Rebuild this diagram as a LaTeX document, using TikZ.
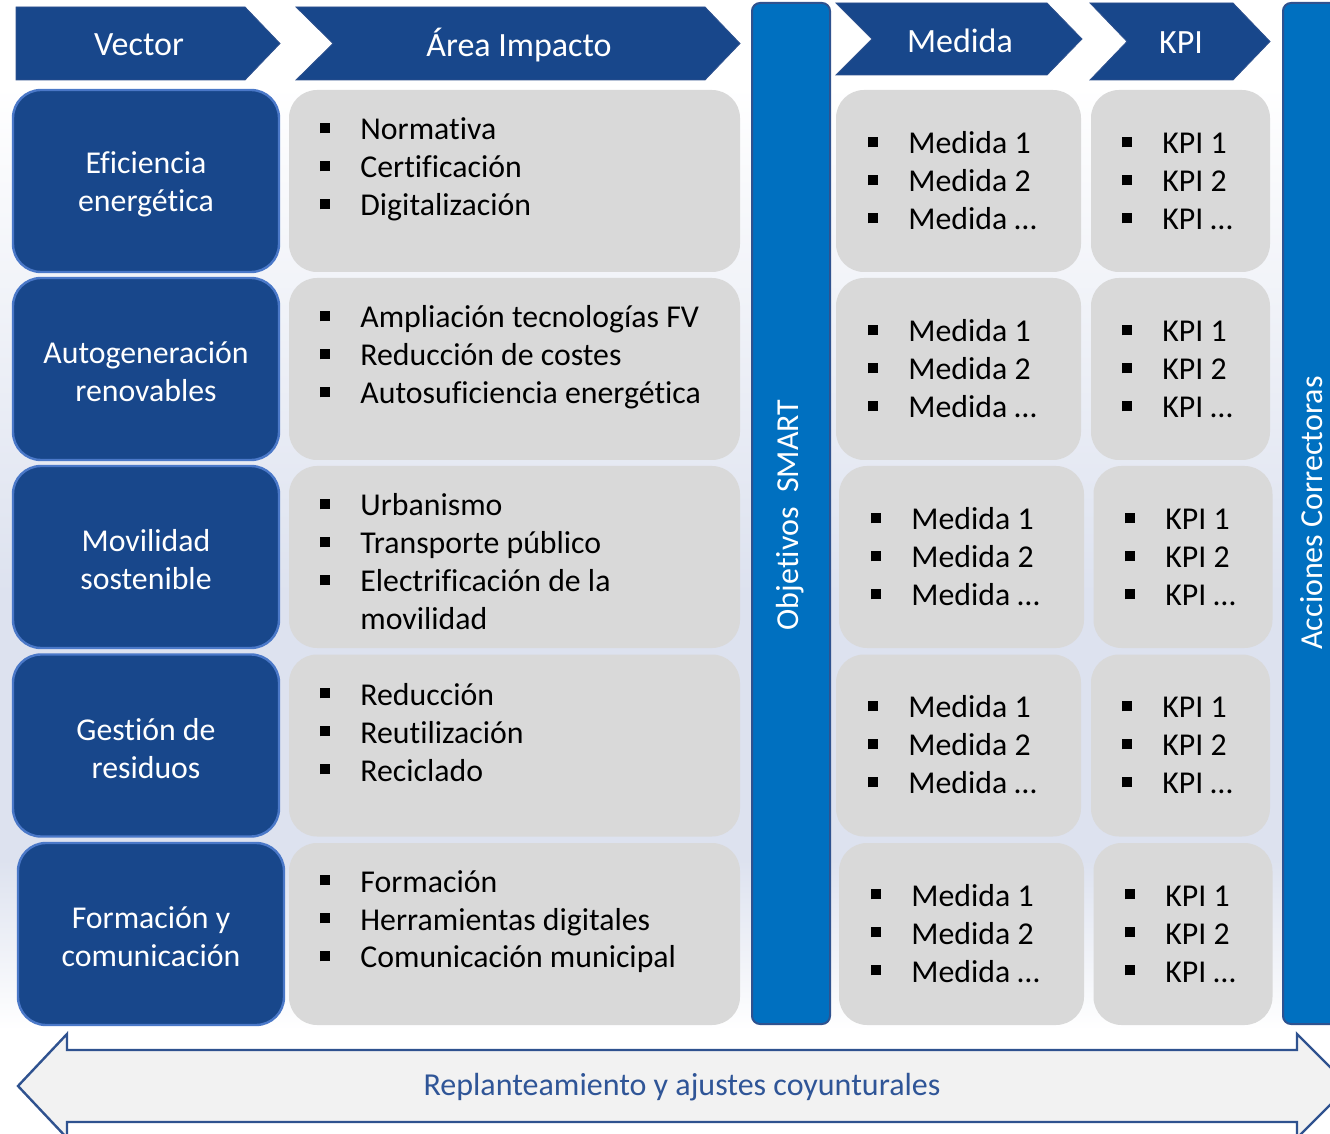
\documentclass[tikz,border=0pt]{standalone}
\usepackage{fontspec}
\setmainfont{Carlito}[Ligatures=NoCommon]
\usetikzlibrary{positioning}

\definecolor{navy}{HTML}{18478B}
\definecolor{navyedge}{HTML}{4A78C8}
\definecolor{barblue}{HTML}{0070C0}
\definecolor{baredge}{HTML}{2F528F}
\definecolor{cardgray}{HTML}{D9D9D9}
\definecolor{bgband}{HTML}{DDE2EF}
\definecolor{arrowfill}{HTML}{F2F2F2}
\definecolor{arrowtext}{HTML}{2F5597}

\pgfdeclareverticalshading{bgfade}{100bp}{color(0bp)=(white); color(25bp)=(white); color(34bp)=(bgband); color(48bp)=(bgband); color(75bp)=(white); color(100bp)=(white)}

% bullet and list helpers
\newcommand{\blt}{\makebox[20pt][l]{\rule[3.3pt]{5pt}{5pt}}}
\newcommand{\blist}[1]{\begin{tabular}[t]{@{}l@{}}#1\end{tabular}}
\newcommand{\cardfont}{\fontsize{15.9}{19}\selectfont}

\begin{document}
\begin{tikzpicture}[x=0.5pt,y=-0.5pt,
  hdr/.style={fill=navy,draw=baredge,line width=0.4pt},
  hdrtext/.style={text=white,font=\fontsize{17}{19}\selectfont},
  vecbox/.style={rounded corners=14pt,fill=navy,draw=navyedge,line width=1.2pt,
    minimum width=133pt,minimum height=91pt,text=white,align=center,font=\cardfont},
  areabox/.style={rounded corners=14pt,fill=cardgray,minimum width=225.5pt,minimum height=91pt},
  medbox/.style={rounded corners=14pt,fill=cardgray,minimum width=122.5pt,minimum height=91pt},
  kpibox/.style={rounded corners=14pt,fill=cardgray,minimum width=89.5pt,minimum height=91pt},
  itemtext/.style={anchor=base west,inner sep=0pt,font=\cardfont},
  vectext/.style={text=white,align=center,font=\cardfont},
  bar/.style={fill=barblue,draw=baredge,line width=1pt,rounded corners=4pt},
  bartext/.style={text=white,rotate=90,inner sep=0pt,font=\fontsize{16}{19}\selectfont}]

\useasboundingbox (0,0) rectangle (1330,1134);
\clip (0,0) rectangle (1330,1134);

% background band
\shade[shading=bgfade] (0,85) rectangle (1330,1030);

% column headers
\draw[hdr] (16,7) -- (245,7) -- (280,43.5) -- (245,80) -- (16,80) -- cycle;
\node[hdrtext] (hvector) at (139,45) {Vector};
\draw[hdr] (296,7) -- (705,7) -- (740,43.5) -- (705,80) -- (296,80) -- (333,43.5) -- cycle;
\node[hdrtext] (harea) at (519,45) {Área Impacto};
\draw[hdr] (836,3) -- (1047,3) -- (1082,39) -- (1047,75) -- (836,75) -- (872,39) -- cycle;
\node[hdrtext] (hmedida) at (960,41) {Medida};
\draw[hdr] (1090,3) -- (1233,3) -- (1270,41.5) -- (1233,80) -- (1090,80) -- (1127,41.5) -- cycle;
\node[hdrtext] (hkpi) at (1181,43) {KPI};

% vertical bars
\draw[bar] (752,3) rectangle (830,1024);
\node[bartext] (smart) at (790,515) {Objetivos\ \ SMART};
\draw[bar] (1283,3) rectangle (1350,1024);
\node[bartext] (acciones) at (1312,513) {Acciones Correctoras};

% row 1
\node[vecbox] (vec1) at (146,181) {};
\node[vectext] (vectxt1) at (146,184) {Eficiencia\\energética};
\node[areabox] (area1) at (514.5,181) {};
\node[itemtext] (areatxt1) at (320,140) {\blist{\blt Normativa\\ \blt Certificación\\ \blt Digitalización}};
\node[medbox] (med1) at (958.5,181) {};
\node[itemtext] (medtxt1) at (868,154) {\blist{\blt Medida 1\\ \blt Medida 2\\ \blt Medida …}};
\node[kpibox] (kpi1) at (1180.5,181) {};
\node[itemtext] (kpitxt1) at (1122,154) {\blist{\blt KPI 1\\ \blt KPI 2\\ \blt KPI …}};

% row 2
\node[vecbox] (vec2) at (146,369) {};
\node[vectext] (vectxt2) at (146,372) {Autogeneración\\renovables};
\node[areabox] (area2) at (514.5,369) {};
\node[itemtext] (areatxt2) at (320,328) {\blist{\blt Ampliación tecnologías FV\\ \blt Reducción de costes\\ \blt Autosuficiencia energética}};
\node[medbox] (med2) at (958.5,369) {};
\node[itemtext] (medtxt2) at (868,342) {\blist{\blt Medida 1\\ \blt Medida 2\\ \blt Medida …}};
\node[kpibox] (kpi2) at (1180.5,369) {};
\node[itemtext] (kpitxt2) at (1122,342) {\blist{\blt KPI 1\\ \blt KPI 2\\ \blt KPI …}};

% row 3
\node[vecbox] (vec3) at (146,557) {};
\node[vectext] (vectxt3) at (146,560) {Movilidad\\sostenible};
\node[areabox] (area3) at (514.5,557) {};
\node[itemtext] (areatxt3) at (320,516) {\blist{\blt Urbanismo\\ \blt Transporte público\\ \blt Electrificación de la\\ \hspace*{20pt}movilidad}};
\node[medbox] (med3) at (961.5,557) {};
\node[itemtext] (medtxt3) at (871,530) {\blist{\blt Medida 1\\ \blt Medida 2\\ \blt Medida …}};
\node[kpibox] (kpi3) at (1183,557) {};
\node[itemtext] (kpitxt3) at (1125,530) {\blist{\blt KPI 1\\ \blt KPI 2\\ \blt KPI …}};

% row 4
\node[vecbox] (vec4) at (146,745.5) {};
\node[vectext] (vectxt4) at (146,748.5) {Gestión de\\residuos};
\node[areabox] (area4) at (514.5,745.5) {};
\node[itemtext] (areatxt4) at (320,705) {\blist{\blt Reducción\\ \blt Reutilización\\ \blt Reciclado}};
\node[medbox] (med4) at (958.5,745.5) {};
\node[itemtext] (medtxt4) at (868,718) {\blist{\blt Medida 1\\ \blt Medida 2\\ \blt Medida …}};
\node[kpibox] (kpi4) at (1180.5,745.5) {};
\node[itemtext] (kpitxt4) at (1122,718) {\blist{\blt KPI 1\\ \blt KPI 2\\ \blt KPI …}};

% row 5
\node[vecbox] (vec5) at (151,934) {};
\node[vectext] (vectxt5) at (151,937) {Formación y\\comunicación};
\node[areabox] (area5) at (514.5,934) {};
\node[itemtext] (areatxt5) at (320,892) {\blist{\blt Formación\\ \blt Herramientas digitales\\ \blt Comunicación municipal}};
\node[medbox] (med5) at (961.5,934) {};
\node[itemtext] (medtxt5) at (871,906) {\blist{\blt Medida 1\\ \blt Medida 2\\ \blt Medida …}};
\node[kpibox] (kpi5) at (1183,934) {};
\node[itemtext] (kpitxt5) at (1125,906) {\blist{\blt KPI 1\\ \blt KPI 2\\ \blt KPI …}};

% feedback arrow
\draw[fill=arrowfill,draw=baredge,line width=1.2pt,line join=miter]
  (18,1086) -- (67,1034) -- (67,1050) -- (1297,1050) -- (1297,1034) -- (1349,1086)
  -- (1297,1138) -- (1297,1122) -- (67,1122) -- (67,1138) -- cycle;
\node[text=arrowtext,font=\fontsize{16}{18}\selectfont] (ajustes) at (682,1087) {Replanteamiento y ajustes coyunturales};

\end{tikzpicture}
\end{document}
